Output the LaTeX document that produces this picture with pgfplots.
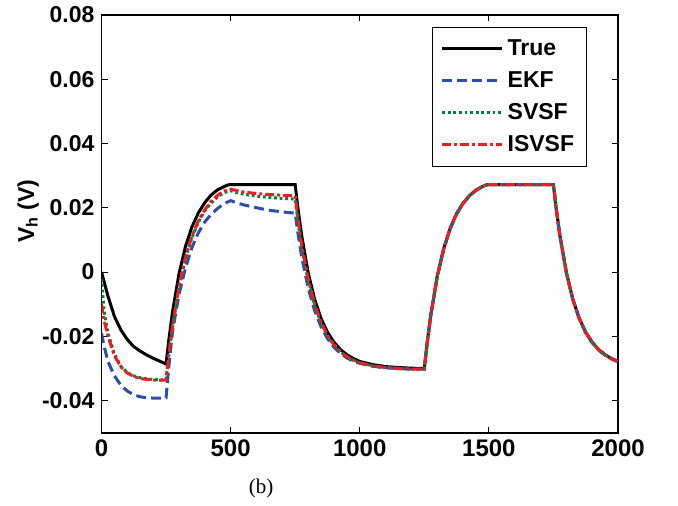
\documentclass[border=0pt]{standalone}
\usepackage{fontspec}
\setmainfont{Liberation Sans}
\newfontfamily\capfont{Liberation Serif}
\usepackage{pgfplots}
\pgfplotsset{compat=1.18}

\definecolor{ekfblue}{RGB}{40,80,172}
\definecolor{svsfgreen}{RGB}{0,130,60}
\definecolor{isvsfred}{RGB}{235,30,35}

\begin{document}
\begin{tikzpicture}
\begin{axis}[
  width=258.25pt, height=209pt, scale only axis,
  xmin=0, xmax=2000, ymin=-0.05, ymax=0.08,
  scaled y ticks=false, scaled x ticks=false,
  xtick={0,500,1000,1500,2000},
  xticklabels={0,500,1000,1500,2000},
  ytick={-0.04,-0.02,0,0.02,0.04,0.06,0.08},
  yticklabels={-0.04,-0.02,0,0.02,0.04,0.06,0.08},
  tick align=inside, major tick length=3pt,
  axis line style={line width=0.7pt},
  every tick/.style={black, line width=0.5pt},
  xticklabel style={font=\bfseries\fontsize{12}{14}\selectfont},
  yticklabel style={font=\bfseries\fontsize{11.5}{13}\selectfont},
  ylabel={V\textsubscript{h} (V)},
  ylabel style={font=\bfseries\fontsize{11.5}{13}\selectfont,
    at={(axis description cs:-0.142,0.53)}, anchor=center},
  legend style={at={(0.640,0.971)}, anchor=north west, draw=black,
    line width=0.6pt, font=\bfseries\fontsize{11.5}{13}\selectfont,
    row sep=2.5pt, inner xsep=4pt, inner ysep=4pt},
  legend cell align=left,
  legend image code/.code={\draw[#1] (0pt,0pt) -- (30pt,0pt);},
]
\addplot[black, line width=1.5pt] coordinates {
(0,0) (25,-0.0075) (50,-0.0138) (75,-0.0180) (100,-0.0210) (125,-0.0232) (150,-0.0246) (175,-0.0258) (200,-0.0268) (225,-0.0277) (250,-0.0286)
(260,-0.0215) (275,-0.0124) (300,-0.0006) (325,0.0079) (350,0.0140) (375,0.0184) (400,0.0216) (425,0.0240) (450,0.0256) (475,0.0266) (490,0.0271) (500,0.0272) (750,0.0272)
(760,0.0202) (775,0.0114) (800,-0.0001) (825,-0.0084) (850,-0.0144) (875,-0.0187) (900,-0.0218) (925,-0.0241) (950,-0.0257) (975,-0.0269) (1000,-0.0278) (1050,-0.0288) (1100,-0.0294) (1150,-0.0297) (1200,-0.0299) (1250,-0.0300)
(1260,-0.0227) (1275,-0.0134) (1300,-0.0013) (1325,0.0073) (1350,0.0136) (1375,0.0182) (1400,0.0214) (1425,0.0238) (1450,0.0255) (1475,0.0266) (1490,0.0271) (1500,0.0272) (1750,0.0272)
(1760,0.0202) (1775,0.0114) (1800,-0.0001) (1825,-0.0084) (1850,-0.0144) (1875,-0.0187) (1900,-0.0218) (1925,-0.0241) (1950,-0.0257) (1975,-0.0269) (2000,-0.0278)
};
\addlegendentry{True}
\addplot[ekfblue, line width=1.5pt, dash pattern=on 5pt off 2.5pt] coordinates {
(0,-0.0190) (10,-0.0230) (25,-0.0278) (50,-0.0323) (75,-0.0352) (100,-0.0370) (125,-0.0382) (150,-0.0388) (175,-0.0391) (200,-0.0392) (225,-0.0392) (250,-0.0391)
(260,-0.0300) (275,-0.0185) (300,-0.0070) (325,0.0012) (350,0.0076) (375,0.0122) (400,0.0156) (425,0.0180) (450,0.0198) (475,0.0213) (500,0.0222) (525,0.0215) (550,0.0209) (600,0.0200) (650,0.0192) (700,0.0187) (750,0.0183)
(760,0.0124) (775,0.0048) (800,-0.0049) (825,-0.0119) (850,-0.0170) (875,-0.0207) (900,-0.0234) (925,-0.0253) (950,-0.0267) (975,-0.0277) (1000,-0.0284) (1050,-0.0293) (1100,-0.0298) (1150,-0.0300) (1200,-0.0302) (1250,-0.0302)
(1260,-0.0229) (1275,-0.0136) (1300,-0.0015) (1325,0.0071) (1350,0.0134) (1375,0.0180) (1400,0.0213) (1425,0.0237) (1450,0.0254) (1475,0.0265) (1490,0.0271) (1500,0.0272) (1750,0.0272)
(1760,0.0201) (1775,0.0112) (1800,-0.0003) (1825,-0.0086) (1850,-0.0146) (1875,-0.0189) (1900,-0.0220) (1925,-0.0243) (1950,-0.0259) (1975,-0.0270) (2000,-0.0279)
};
\addlegendentry{EKF}
\addplot[svsfgreen, line width=1.5pt, dash pattern=on 1.4pt off 1.4pt] coordinates {
(0,-0.0020) (10,-0.0120) (25,-0.0190) (50,-0.0255) (75,-0.0293) (100,-0.0313) (125,-0.0323) (150,-0.0329) (175,-0.0332) (200,-0.0334) (225,-0.0335) (250,-0.0335)
(260,-0.0262) (275,-0.0169) (300,-0.0047) (325,0.0042) (350,0.0107) (375,0.0155) (400,0.0190) (425,0.0215) (450,0.0234) (475,0.0247) (500,0.0253) (525,0.0247) (550,0.0242) (600,0.0236) (650,0.0232) (700,0.0229) (750,0.0227)
(760,0.0162) (775,0.0080) (800,-0.0026) (825,-0.0103) (850,-0.0158) (875,-0.0199) (900,-0.0227) (925,-0.0248) (950,-0.0264) (975,-0.0274) (1000,-0.0282) (1050,-0.0292) (1100,-0.0297) (1150,-0.0300) (1200,-0.0302) (1250,-0.0302)
(1260,-0.0228) (1275,-0.0135) (1300,-0.0014) (1325,0.0072) (1350,0.0135) (1375,0.0181) (1400,0.0213) (1425,0.0237) (1450,0.0254) (1475,0.0266) (1490,0.0271) (1500,0.0272) (1750,0.0272)
(1760,0.0201) (1775,0.0113) (1800,-0.0002) (1825,-0.0085) (1850,-0.0145) (1875,-0.0188) (1900,-0.0219) (1925,-0.0242) (1950,-0.0258) (1975,-0.0270) (2000,-0.0279)
};
\addlegendentry{SVSF}
\addplot[isvsfred, line width=1.5pt, dash pattern=on 4.5pt off 1.5pt on 1.5pt off 1.5pt] coordinates {
(0,-0.0100) (10,-0.0150) (25,-0.0200) (50,-0.0260) (75,-0.0295) (100,-0.0314) (125,-0.0325) (150,-0.0331) (175,-0.0334) (200,-0.0336) (225,-0.0336) (250,-0.0336)
(260,-0.0262) (275,-0.0168) (300,-0.0045) (325,0.0045) (350,0.0111) (375,0.0159) (400,0.0194) (425,0.0220) (450,0.0239) (475,0.0252) (500,0.0258) (525,0.0253) (550,0.0249) (600,0.0244) (650,0.0241) (700,0.0239) (750,0.0237)
(760,0.0171) (775,0.0087) (800,-0.0021) (825,-0.0099) (850,-0.0156) (875,-0.0197) (900,-0.0226) (925,-0.0247) (950,-0.0263) (975,-0.0274) (1000,-0.0282) (1050,-0.0292) (1100,-0.0297) (1150,-0.0300) (1200,-0.0302) (1250,-0.0302)
(1260,-0.0228) (1275,-0.0135) (1300,-0.0014) (1325,0.0072) (1350,0.0135) (1375,0.0181) (1400,0.0213) (1425,0.0237) (1450,0.0254) (1475,0.0266) (1490,0.0271) (1500,0.0272) (1750,0.0272)
(1760,0.0201) (1775,0.0113) (1800,-0.0002) (1825,-0.0085) (1850,-0.0145) (1875,-0.0188) (1900,-0.0219) (1925,-0.0242) (1950,-0.0258) (1975,-0.0270) (2000,-0.0279)
};
\addlegendentry{ISVSF}
\coordinate (axsw) at (rel axis cs:0,0);
\coordinate (axne) at (rel axis cs:1,1);
\coordinate (capb) at (axis description cs:0.309,-0.134);
\end{axis}
\node[font=\capfont\fontsize{10.5}{12}\selectfont] at (capb) {(b)};
\path ([shift={(-50.75pt,-36pt)}]axsw) rectangle ([shift={(30pt,6pt)}]axne);
\end{tikzpicture}
\end{document}
